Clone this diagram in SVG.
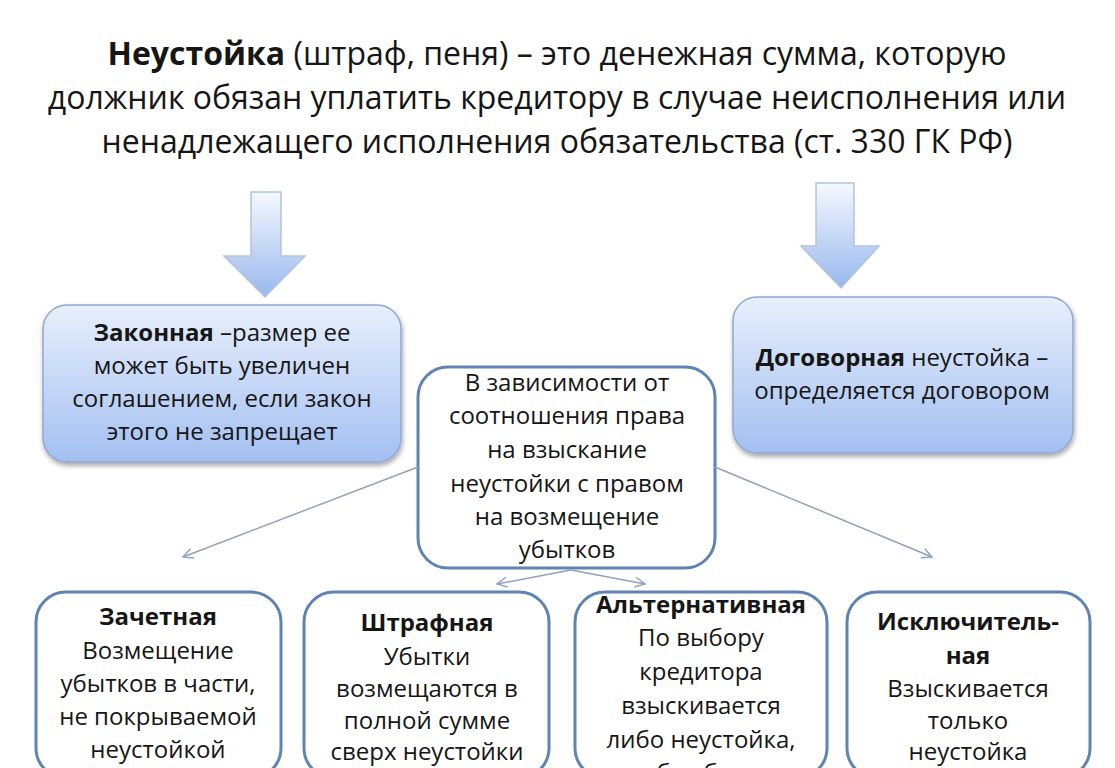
<svg xmlns="http://www.w3.org/2000/svg" width="1115" height="768" viewBox="0 0 1115 768">
<defs>
<linearGradient id="gBox" x1="0" y1="0" x2="0" y2="1">
<stop offset="0" stop-color="#e8effc"/>
<stop offset="1" stop-color="#a3bff1"/>
</linearGradient>
<linearGradient id="gArrow" x1="0" y1="0" x2="0" y2="1">
<stop offset="0" stop-color="#f5f8fe"/>
<stop offset="1" stop-color="#99b8ee"/>
</linearGradient>
<filter id="sh" x="-10%" y="-10%" width="125%" height="130%">
<feGaussianBlur in="SourceAlpha" stdDeviation="2.5"/>
<feOffset dx="1" dy="3" result="b"/>
<feComponentTransfer><feFuncA type="linear" slope="0.35"/></feComponentTransfer>
<feMerge><feMergeNode/><feMergeNode in="SourceGraphic"/></feMerge>
</filter>
<marker id="ah" viewBox="0 0 12 12" refX="11" refY="6" markerWidth="12" markerHeight="12" markerUnits="userSpaceOnUse" orient="auto">
<path d="M1,1 L11,6 L1,11" fill="none" stroke="#8ea3bd" stroke-width="1.5"/>
</marker>
</defs>
<style>
text{font-family:"Open Sans","Noto Sans",sans-serif;fill:#161616;text-anchor:middle}
.t{font-size:32px}
.m{font-size:24px}
.b{font-weight:bold}
.blue{fill:url(#gBox);stroke:#8ea9d2;stroke-width:1.5}
.wb{fill:#ffffff;stroke:#5f83b3;stroke-width:3}
.arr{fill:url(#gArrow);stroke:#b3c4dc;stroke-width:1.5}
.con{fill:none;stroke:#8ea3bd;stroke-width:1.5;marker-end:url(#ah)}
</style>
<rect width="1115" height="768" fill="#ffffff"/>
<g id="title">
<text class="t" x="557" y="65"><tspan class="b">Неустойка</tspan> (штраф, пеня) – это денежная сумма, которую</text>
<text class="t" x="557" y="109">должник обязан уплатить кредитору в случае неисполнения или</text>
<text class="t" x="557" y="153">ненадлежащего исполнения обязательства (ст. 330 ГК РФ)</text>
</g>
<g id="arrow-left">
<path class="arr" d="M251,192 L281,192 L281,256 L305,256 L265,297 L224,256 L251,256 Z"/>
</g>
<g id="arrow-right">
<path class="arr" d="M816,183 L854,183 L854,246 L879,246 L841,288 L801,246 L816,246 Z"/>
</g>
<g id="node-zakonnaya">
<rect class="blue" x="43" y="305" width="358" height="157" rx="24" filter="url(#sh)"/>
<text class="m" x="222" y="341"><tspan class="b">Законная</tspan> –размер ее</text>
<text class="m" x="222" y="374">может быть увеличен</text>
<text class="m" x="222" y="407">соглашением, если закон</text>
<text class="m" x="222" y="440">этого не запрещает</text>
</g>
<g id="node-dogovornaya">
<rect class="blue" x="733" y="297" width="340" height="156" rx="24" filter="url(#sh)"/>
<text class="m" x="902" y="366"><tspan class="b">Договорная</tspan> неустойка –</text>
<text class="m" x="902" y="399">определяется договором</text>
</g>
<g id="node-center">
<rect class="wb" x="418" y="367" width="297" height="201" rx="30"/>
<text class="m" x="567" y="391">В зависимости от</text>
<text class="m" x="567" y="424">соотношения права</text>
<text class="m" x="567" y="458">на взыскание</text>
<text class="m" x="567" y="492">неустойки с правом</text>
<text class="m" x="567" y="525">на возмещение</text>
<text class="m" x="567" y="558">убытков</text>
</g>
<g id="connectors">
<line class="con" x1="418" y1="467" x2="183" y2="557"/>
<line class="con" x1="715" y1="467" x2="932" y2="557"/>
<line class="con" x1="571" y1="570" x2="497" y2="584"/>
<line class="con" x1="571" y1="570" x2="645" y2="584"/>
</g>
<g id="node-zachetnaya">
<rect class="wb" x="36" y="592" width="245" height="186" rx="30"/>
<text class="m b" x="158" y="625">Зачетная</text>
<text class="m" x="158" y="659">Возмещение</text>
<text class="m" x="158" y="692">убытков в части,</text>
<text class="m" x="158" y="725">не покрываемой</text>
<text class="m" x="158" y="758">неустойкой</text>
</g>
<g id="node-shtrafnaya">
<rect class="wb" x="304" y="592" width="245" height="186" rx="30"/>
<text class="m b" x="427" y="631">Штрафная</text>
<text class="m" x="427" y="665">Убытки</text>
<text class="m" x="427" y="697">возмещаются в</text>
<text class="m" x="427" y="729">полной сумме</text>
<text class="m" x="427" y="760">сверх неустойки</text>
</g>
<g id="node-alternativnaya">
<rect class="wb" x="575" y="592" width="252" height="186" rx="30"/>
<text class="m b" x="701" y="613">Альтернативная</text>
<text class="m" x="701" y="646">По выбору</text>
<text class="m" x="701" y="680">кредитора</text>
<text class="m" x="701" y="714">взыскивается</text>
<text class="m" x="701" y="748">либо неустойка,</text>
<text class="m" x="701" y="781">либо убытки</text>
</g>
<g id="node-isklyuchitelnaya">
<rect class="wb" x="847" y="592" width="243" height="186" rx="30"/>
<text class="m b" x="968" y="630">Исключитель-</text>
<text class="m b" x="968" y="664">ная</text>
<text class="m" x="968" y="697">Взыскивается</text>
<text class="m" x="968" y="729">только</text>
<text class="m" x="968" y="760">неустойка</text>
</g>
</svg>
